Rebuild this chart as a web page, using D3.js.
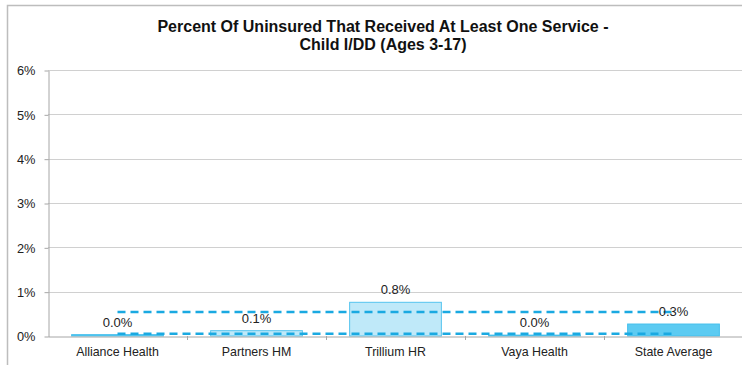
<!DOCTYPE html>
<html><head><meta charset="utf-8">
<script src="https://cdn.jsdelivr.net/npm/d3@7"></script>
<style>body{margin:0;background:#fff}svg{display:block;font-family:"Liberation Sans",Arial,sans-serif}</style>
</head><body><svg id="c" width="742" height="365"></svg>
<script>
const categories = ["Alliance Health","Partners HM","Trillium HR","Vaya Health","State Average"];
const values = [0.03, 0.12, 0.76, 0.02, 0.27];
const barStyle = ["dark","light","light","dark","dark"];
const upperLine = [0.54, 0.54, 0.54, 0.54, 0.54];
const lowerLine = [0.05, 0.05, 0.05, 0.05, 0.05];
const yTicks = [0,1,2,3,4,5,6];
const titleLines = ["Percent Of Uninsured That Received At Least One Service -","Child I/DD (Ages 3-17)"];

const svg = d3.select("#c");
const m = {l:48, r:-1, t:70, b:29};
const W = 742, H = 365;
// outer chart border
svg.append("path").attr("d",`M7.5,${H} V5.5 H${W}`).attr("fill","none").attr("stroke","#bdbdbd").attr("stroke-width",1.5);

const x = d3.scaleBand().domain(categories).range([m.l, W - m.r]).paddingInner(0.34).paddingOuter(0.17);
const xb = d3.scaleBand().domain(categories).range([m.l, W - m.r]);
const y = d3.scaleLinear().domain([0,6]).range([336, 70]);

// gridlines
svg.append("g").selectAll("line").data(yTicks.slice(1)).join("line")
  .attr("x1", m.l).attr("x2", W).attr("y1", d=>Math.round(y(d))+0.5).attr("y2", d=>Math.round(y(d))+0.5)
  .attr("stroke","#d0d0d0");

// y axis
const ya = svg.append("g").attr("transform",`translate(${m.l+0.5},0.5)`)
  .call(d3.axisLeft(y).tickValues(yTicks).tickFormat(d=>d+"%").tickSize(4).tickSizeOuter(0));
ya.select(".domain").attr("stroke","#a6a6a6");
ya.selectAll(".tick line").attr("stroke","#a6a6a6");
ya.selectAll("text").attr("font-size",12.8).attr("fill","#222").attr("font-family","Liberation Sans, Arial").attr("x",-13).attr("dy","0.33em");

// bars
svg.append("g").selectAll("rect").data(categories).join("rect")
  .attr("x", d=>x(d)).attr("width", x.bandwidth())
  .attr("y", (d,i)=>y(values[i])).attr("height",(d,i)=>y(0)-y(values[i]))
  .attr("fill",(d,i)=>barStyle[i]==="dark" ? "#5ccbf2" : "#bfe9f9")
  .attr("stroke",(d,i)=>barStyle[i]==="dark" ? "#45bfec" : "#55c4ee").attr("stroke-width",1);

// x axis
const xa = svg.append("g").attr("transform",`translate(0,${y(0)+0.5})`)
  .call(d3.axisBottom(xb).tickSize(0).tickSizeOuter(0));
xa.select(".domain").attr("stroke","#a6a6a6");
xa.selectAll("text").attr("font-size",12.4).attr("fill","#222").attr("font-family","Liberation Sans, Arial").attr("dy","1.3em");
// boundary ticks
svg.append("g").selectAll("line").data(categories.slice(1)).join("line")
  .attr("x1", d=>Math.round(xb(d))+0.5).attr("x2", d=>Math.round(xb(d))+0.5)
  .attr("y1", y(0)).attr("y2", y(0)+4).attr("stroke","#a6a6a6");

// dashed lines
const line = d3.line().x((d,i)=>xb(categories[i]) + xb.bandwidth()/2).y(d=>y(d));
[upperLine, lowerLine].forEach(arr=>{
  svg.append("path").attr("d", line(arr)).attr("fill","none")
    .attr("stroke","#1aa9e1").attr("stroke-width",2.5).attr("stroke-dasharray","8,5");
});

// value labels
svg.append("g").selectAll("text").data(categories).join("text")
  .attr("x", d=>x(d)+x.bandwidth()/2).attr("y",(d,i)=>y(values[i])-8)
  .attr("text-anchor","middle").attr("font-size",13).attr("fill","#222")
  .text((d,i)=>values[i].toFixed(1)+"%");

// title
svg.append("g").selectAll("text").data(titleLines).join("text")
  .attr("x",383).attr("y",(d,i)=>32+i*17.5).attr("text-anchor","middle")
  .attr("font-size",16).attr("font-weight","bold").attr("fill","#111").text(d=>d);
</script></body></html>
